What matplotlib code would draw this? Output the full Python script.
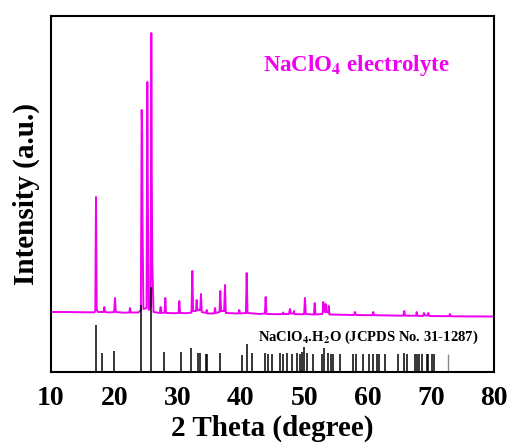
import matplotlib

matplotlib.use("Agg")
import matplotlib.pyplot as plt

plt.rcParams["font.family"] = "serif"
plt.rcParams["font.serif"] = ["Liberation Serif", "DejaVu Serif"]
plt.rcParams["mathtext.fontset"] = "stix"

MAGENTA = "#f000f0"

# measured pattern of the electrolyte (2theta, intensity a.u.)
TWO_THETA = [
    10.0, 12.0, 14.0, 16.0, 16.9,
    17.0, 17.11, 17.22, 17.4,
    18.3, 18.42, 18.55, 19.2,
    19.98, 20.11, 20.24, 21.5,
    22.38, 22.48, 22.6, 23.8,
    24.2, 24.33, 24.40, 24.46, 24.6,
    25.1, 25.22, 25.32, 25.45,
    25.75, 25.85, 25.93, 26.0, 26.2,
    27.2, 27.33, 27.45,
    27.95, 28.06, 28.18, 29.5,
    30.15, 30.27, 30.4, 31.5,
    32.2, 32.33, 32.45,
    32.9, 33.02, 33.12,
    33.58, 33.70, 33.82,
    34.5, 34.6, 34.72, 35.7,
    35.82, 35.91, 36.02,
    36.62, 36.75, 36.88,
    37.36, 37.49, 37.62, 39.5,
    39.65, 39.75, 39.88,
    40.8, 40.92, 41.05, 43.0,
    43.8, 43.92, 44.05, 46.0,
    46.6, 46.70, 46.8,
    47.6, 47.76, 47.9,
    48.3, 48.39, 48.5, 49.9,
    50.0, 50.13, 50.26, 51.5,
    51.55, 51.67, 51.8, 52.85,
    52.93, 53.02, 53.12, 53.3,
    53.40, 53.5, 53.78,
    53.88, 54.0, 57.8,
    57.9, 58.03, 58.2, 60.7,
    60.8, 60.92, 61.05, 65.6,
    65.7, 65.82, 65.95, 67.6,
    67.7, 67.78, 67.9, 68.8,
    68.93, 69.1, 69.5, 69.61, 69.75, 72.9,
    73.04, 73.2, 80.0,
]
INTENSITY = [
    60, 60, 59.8, 59.7, 59.7,
    62, 175, 63, 60,
    60, 65, 60, 59.5,
    60, 74, 60, 59.3,
    59.5, 64, 59.5, 59.5,
    62, 262, 239, 150, 63,
    64, 290, 160, 62,
    66, 339, 190, 110, 60,
    59, 65, 59,
    59.5, 74, 59, 58.8,
    59, 71, 59, 58.8,
    59.5, 101, 61,
    61, 72, 62,
    62, 78, 60,
    59, 62, 58.5, 58.5,
    59, 64, 59,
    60, 81, 61,
    61, 87, 59, 58.5,
    58.5, 62, 58.5,
    59, 99, 59, 58,
    58.5, 75, 58, 57.8,
    58, 59.5, 58,
    58, 63, 58.5,
    58.5, 61, 57.8, 57.8,
    58, 74, 58, 57.5,
    57.5, 69, 57.5, 58,
    59, 70, 61, 60,
    68, 60, 59.5,
    66, 57.5, 57,
    57, 60, 57, 56.8,
    57, 60, 56.8, 56.3,
    56.5, 61, 56.3, 56.2,
    56.3, 60, 56.2, 56,
    59, 56.5, 56.5, 59, 56, 55.8,
    58, 55.7, 55.5,
]

# JCPDS No. 31-1287 reference lines
REF_2THETA = [
    17.06, 18.01, 20.0, 24.27, 25.75, 27.85, 30.49, 32.12, 33.18, 33.54,
    34.44, 34.70, 36.70, 40.23, 40.92, 41.81, 43.81, 44.33, 44.87, 46.18,
    46.70, 47.34, 48.03, 48.82, 49.34, 49.61, 49.97, 50.40, 51.44, 52.77,
    53.18, 53.72, 54.19, 54.60, 55.66, 57.67, 58.19, 59.25, 60.29, 60.92,
    61.46, 61.87, 62.77, 64.87, 65.77, 66.30, 67.51, 67.88, 68.19, 68.57,
    69.36, 69.61, 70.15, 70.51,
]
REF_INT = [
    47, 19, 21, 67, 85, 20, 20, 24, 19, 19,
    18, 18, 19, 17, 28, 19, 19, 18, 18, 19,
    18, 19, 18, 19, 18, 20, 25, 19, 18, 18,
    24, 19, 18, 18, 18, 18, 18, 18, 18, 18,
    18, 18, 18, 18, 19, 18, 18, 18, 18, 18,
    18, 18, 18, 18,
]
WEAK_2THETA = [72.77]
WEAK_INT = [18]

XTICKS = [10, 20, 30, 40, 50, 60, 70, 80]


def main():
    fig = plt.figure(figsize=(5.12, 4.47), dpi=100)
    ax = fig.add_axes([51 / 512, 75 / 447, 443 / 512, 356 / 447])

    ax.plot(TWO_THETA, INTENSITY, color=MAGENTA, linewidth=1.4)
    ax.vlines(REF_2THETA, 0, REF_INT, color="black", linewidth=1.1)
    ax.vlines(WEAK_2THETA, 0, WEAK_INT, color="#888888", linewidth=1.0)

    ax.text(43.5, 307, r"NaClO$_\mathbf{4}$ electrolyte", color=MAGENTA,
            fontsize=16.5, fontweight="bold", va="center", ha="left")
    ax.text(42.7, 35, r"NaClO$_\mathbf{4}$.H$_\mathbf{2}$O (JCPDS No. 31-1287)",
            color="black", fontsize=10.5, fontweight="bold", va="center", ha="left")

    ax.set_xlim(10, 80)
    ax.set_ylim(0, 356)
    ax.set_xticks(XTICKS)
    ax.set_yticks([])
    ax.tick_params(axis="x", length=0, pad=10, labelsize=20)
    for lab in ax.get_xticklabels():
        lab.set_fontweight("bold")
    for sp in ax.spines.values():
        sp.set_linewidth(1.5)

    ax.set_xlabel("2 Theta (degree)", fontsize=21, fontweight="bold", labelpad=3)
    ax.set_ylabel("Intensity (a.u.)", fontsize=21, fontweight="bold", labelpad=8)

    fig.savefig("out.png", dpi=100, facecolor="white")
    plt.close(fig)


if __name__ == "__main__":
    main()
